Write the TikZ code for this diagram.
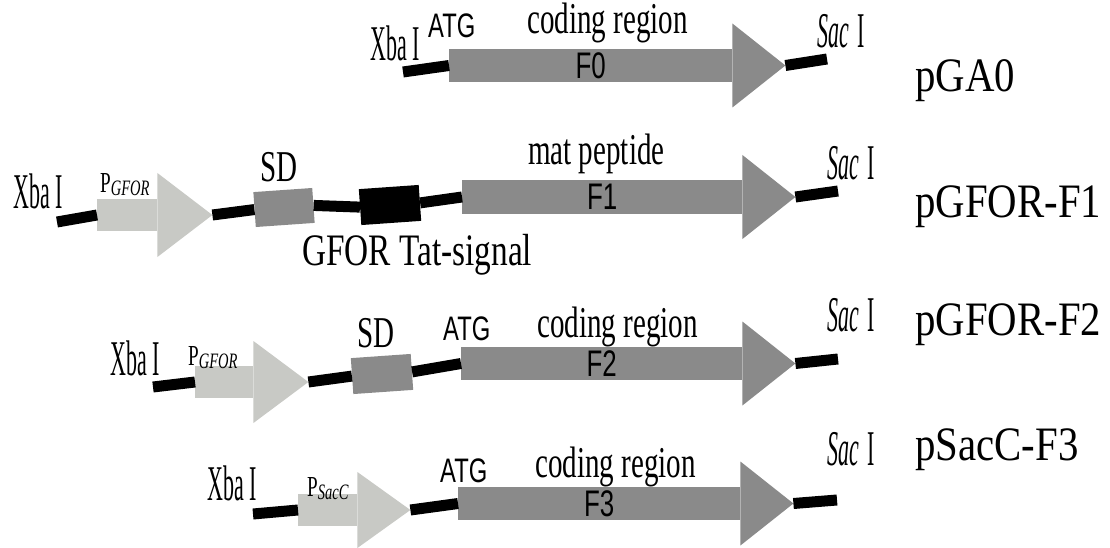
\documentclass[tikz,border=0pt]{standalone}
\usepackage{fontspec}
\setmainfont{Liberation Serif}
\newfontfamily\labfont[FakeStretch=0.66]{Liberation Serif}
\newfontfamily\tatfont[FakeStretch=0.74]{Liberation Serif}
\newfontfamily\enzfont[FakeStretch=0.44]{Liberation Serif}
\newfontfamily\plasfont[FakeStretch=0.85]{Liberation Serif}
\newfontfamily\seqfont[FakeStretch=0.7]{Liberation Sans}
\usetikzlibrary{calc}
\definecolor{cdsgray}{RGB}{138,138,138}
\definecolor{promgray}{RGB}{200,201,197}
\tikzset{
  cds/.style={rectangle,fill=cdsgray,inner sep=0pt,minimum height=33pt,anchor=west,
    font=\seqfont\fontsize{37}{37}\selectfont},
  prom/.style={rectangle,fill=promgray,inner sep=0pt,minimum height=32pt,anchor=west},
  sdbox/.style={rectangle,fill=cdsgray,inner sep=0pt,minimum width=59pt,minimum height=35pt,rotate=4},
  tatbox/.style={sdbox,fill=black,minimum width=60pt,minimum height=36pt},
  dna/.style={line width=11pt,black},
  lab/.style={anchor=base west,inner sep=0pt,font=\labfont\fontsize{44}{44}\selectfont},
  enz/.style={anchor=base west,inner sep=0pt,font=\enzfont\fontsize{50}{50}\selectfont},
  seq/.style={anchor=base west,inner sep=0pt,font=\seqfont\fontsize{34}{34}\selectfont},
  plas/.style={anchor=base west,inner sep=0pt,font=\plasfont\fontsize{48}{48}\selectfont},
  plab/.style={anchor=base west,inner sep=0pt,font=\labfont\fontsize{29}{29}\selectfont}
}
\newcommand{\psub}[1]{P\raisebox{-3pt}{\fontsize{22}{22}\selectfont\itshape #1}}

\begin{document}
\begin{tikzpicture}[x=1pt,y=-1pt]
  \useasboundingbox (0,0) rectangle (1110,548);
  % pGA0
  \node[cds,minimum width=283pt] (f0) at (449,65.5) {F0};
  \fill[cdsgray] ($(f0.east)+(0,-42)$) -- ($(f0.east)+(53,0)$) -- ($(f0.east)+(0,42)$) -- cycle;
  \coordinate (f0tip) at ($(f0.east)+(53,0)$);
  \coordinate (xba0) at (403,72);
  \coordinate (sac0) at (827,59);
  \draw[dna] (xba0) -- (f0.west);
  \draw[dna] (f0tip) -- (sac0);
  \node[enz] (x0) at (370,61) {Xba I};
  \node[seq] (atg0) at (428,38) {ATG};
  \node[lab] (cr0) at (527,34) {coding region};
  \node[enz] (s0) at (817,48) {\textit{Sac}\,I};
  \node[plas] (n0) at (915,92) {pGA0};

  % pGFOR-F1
  \node[prom,minimum width=60pt] (p1) at (97,215) {};
  \fill[promgray] ($(p1.east)+(0,-42)$) -- ($(p1.east)+(55,0)$) -- ($(p1.east)+(0,42)$) -- cycle;
  \coordinate (p1tip) at ($(p1.east)+(55,0)$);
  \node[sdbox] (sd1) at (284,207.5) {};
  \node[tatbox] (tat1) at (390,205) {};
  \node[cds,minimum width=280pt] (f1) at (462,197) {F1};
  \fill[cdsgray] ($(f1.east)+(0,-42)$) -- ($(f1.east)+(53,0)$) -- ($(f1.east)+(0,42)$) -- cycle;
  \coordinate (f1tip) at ($(f1.east)+(53,0)$);
  \coordinate (xba1) at (57,222);
  \coordinate (sac1) at (838,191);
  \draw[dna] (xba1) -- (p1.west);
  \draw[dna] (p1tip) -- (sd1.west);
  \draw[dna] (sd1.east) -- (tat1.west);
  \draw[dna] (tat1.east) -- (f1.west);
  \draw[dna] (f1tip) -- (sac1);
  \node[enz] (x1) at (13,208) {Xba I};
  \node[plab] (pl1) at (100,193) {\psub{GFOR}};
  \node[lab] (sdl1) at (260,182) {SD};
  \node[lab,font=\tatfont\fontsize{45}{45}\selectfont] (tatl) at (302,265) {GFOR Tat-signal};
  \node[lab] (mp1) at (528,165) {mat peptide};
  \node[enz] (s1) at (827,180) {\textit{Sac}\,I};
  \node[plas] (n1) at (915,217) {pGFOR-F1};

  % pGFOR-F2
  \node[prom,minimum width=58pt] (p2) at (195,382) {};
  \fill[promgray] ($(p2.east)+(0,-41)$) -- ($(p2.east)+(55,0)$) -- ($(p2.east)+(0,41)$) -- cycle;
  \coordinate (p2tip) at ($(p2.east)+(55,0)$);
  \node[sdbox,minimum width=60pt,minimum height=36pt] (sd2) at (382,374) {};
  \node[cds,minimum width=281pt] (f2) at (461,363.5) {F2};
  \fill[cdsgray] ($(f2.east)+(0,-42)$) -- ($(f2.east)+(53,0)$) -- ($(f2.east)+(0,42)$) -- cycle;
  \coordinate (f2tip) at ($(f2.east)+(53,0)$);
  \coordinate (xba2) at (153,387);
  \coordinate (sac2) at (838,359);
  \draw[dna] (xba2) -- (p2.west);
  \draw[dna] (p2tip) -- (sd2.west);
  \draw[dna] (sd2.east) -- (f2.west);
  \draw[dna] (f2tip) -- (sac2);
  \node[enz] (x2) at (110,375) {Xba I};
  \node[plab] (pl2) at (188,365) {\psub{GFOR}};
  \node[lab] (sdl2) at (357,347) {SD};
  \node[seq] (atg2) at (443,340) {ATG};
  \node[lab] (cr2) at (537,337) {coding region};
  \node[enz] (s2) at (827,331) {\textit{Sac}\,I};
  \node[plas] (n2) at (915,335) {pGFOR-F2};

  % pSacC-F3
  \node[prom,minimum width=59pt] (p3) at (298,510) {};
  \fill[promgray] ($(p3.east)+(0,-38)$) -- ($(p3.east)+(53,0)$) -- ($(p3.east)+(0,38)$) -- cycle;
  \coordinate (p3tip) at ($(p3.east)+(53,0)$);
  \node[cds,minimum width=282pt] (f3) at (458,503.5) {F3};
  \fill[cdsgray] ($(f3.east)+(0,-42)$) -- ($(f3.east)+(53,0)$) -- ($(f3.east)+(0,42)$) -- cycle;
  \coordinate (f3tip) at ($(f3.east)+(53,0)$);
  \coordinate (xba3) at (253,514);
  \coordinate (sac3) at (837,500);
  \draw[dna] (xba3) -- (p3.west);
  \draw[dna] (p3tip) -- (f3.west);
  \draw[dna] (f3tip) -- (sac3);
  \node[enz] (x3) at (207,500) {Xba I};
  \node[plab] (pl3) at (307,496) {\psub{SacC}};
  \node[seq] (atg3) at (440,482) {ATG};
  \node[lab] (cr3) at (535,477) {coding region};
  \node[enz] (s3) at (827,465) {\textit{Sac}\,I};
  \node[plas] (n3) at (915,460) {pSacC-F3};
\end{tikzpicture}
\end{document}
